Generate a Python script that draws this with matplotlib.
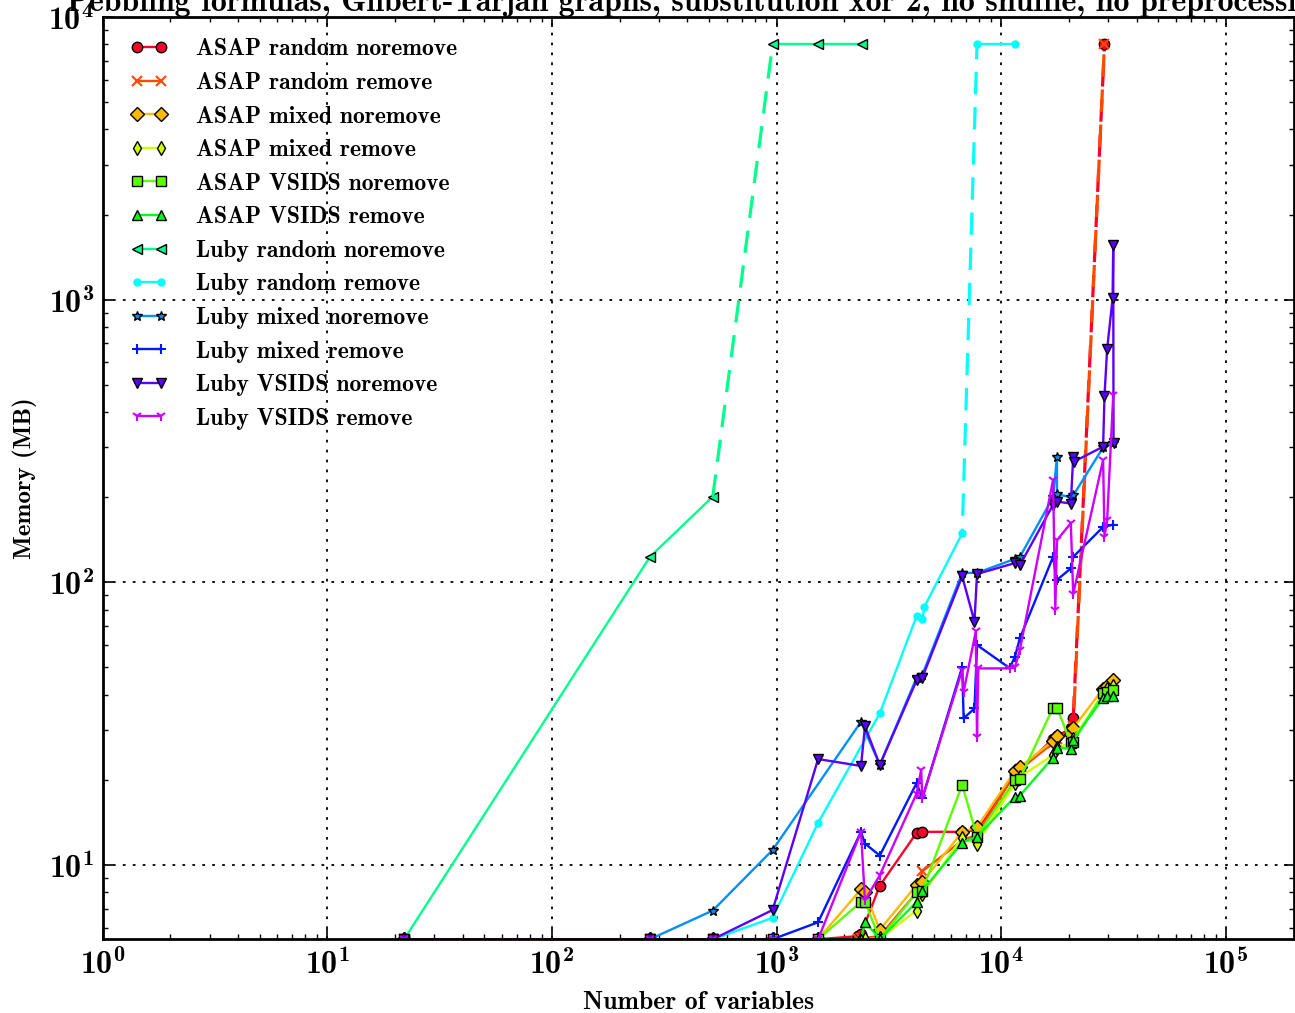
import matplotlib
matplotlib.use("Agg")
import matplotlib.pyplot as plt

plt.rcParams['font.family'] = ['cmb10', 'DejaVu Serif']
plt.rcParams['mathtext.fontset'] = 'cm'
plt.rcParams['axes.unicode_minus'] = False
plt.rcParams['axes.formatter.use_mathtext'] = True

TIMEOUT = 8000.0
B = 5.46  # values sitting on the lower edge

labels = ["ASAP random noremove", "ASAP random remove", "ASAP mixed noremove",
          "ASAP mixed remove", "ASAP VSIDS noremove", "ASAP VSIDS remove",
          "Luby random noremove", "Luby random remove", "Luby mixed noremove",
          "Luby mixed remove", "Luby VSIDS noremove", "Luby VSIDS remove"]
markers = ['o', 'x', 'D', 'd', 's', '^', '<', '.', '*', '+', 'v', '1']

asap_random_noremove_x = [22, 273, 520, 960, 1530, 2300, 2375, 2880, 4200, 4450, 6700, 7800,
                          11500, 12100, 17000, 17700, 20400, 20900]
asap_random_noremove_y = [B, B, B, B, B, 5.6, 5.7, 8.45, 13.0, 13.1, 13.1, 13.3,
                          21.0, 21.5, 28.0, 28.5, 30.5, 33.0]
asap_random_noremove_t = [28800]

asap_random_remove_x = [22, 273, 520, 960, 1530, 2300, 2375, 2880, 4200, 4450, 6700, 7800,
                        11500, 12100, 17000, 17700, 20400, 20900]
asap_random_remove_y = [B, B, B, B, B, B, 5.5, 5.6, 8.0, 9.5, 12.2, 12.8,
                        21.0, 21.8, 27.0, 28.0, 29.0, 31.0]
asap_random_remove_t = [28800]

asap_mixed_noremove_x = [22, 273, 520, 960, 1530, 2375, 2474, 2880, 4200, 4450, 6700, 7800,
                         11500, 12100, 17000, 17700, 20400, 20900, 28400, 29600, 31500]
asap_mixed_noremove_y = [B, B, B, B, B, 8.2, 8.0, 5.9, 8.5, 8.7, 13.1, 13.6,
                         21.5, 22.2, 27.5, 28.5, 29.0, 30.5, 42.0, 43.0, 45.0]

asap_mixed_remove_x = [22, 273, 520, 960, 1530, 2375, 2474, 2880, 4200, 4450, 6700, 7800,
                       11500, 12100, 17000, 17700, 20400, 20900, 28400, 29600, 31500]
asap_mixed_remove_y = [B, B, B, B, B, B, B, 5.5, 6.9, 7.9, 12.5, 11.9,
                       19.5, 20.5, 24.5, 26.0, 27.0, 28.0, 40.0, 42.0, 43.0]

asap_vsids_noremove_x = [22, 273, 520, 960, 1530, 2375, 2474, 2880, 4200, 4450, 6700, 7800,
                         11500, 12100, 17000, 17700, 20400, 20900, 28400, 29600, 31500]
asap_vsids_noremove_y = [B, B, B, B, B, 7.4, 7.4, B, 8.0, 8.1, 19.2, 12.6,
                         20.0, 20.2, 36.0, 36.0, 27.0, 27.3, 40.5, 41.0, 41.5]

asap_vsids_remove_x = [22, 273, 520, 960, 1530, 2375, 2474, 2880, 4200, 4450, 6700, 7800,
                       11500, 12100, 17000, 17700, 20400, 20900, 28400, 29600, 31500]
asap_vsids_remove_y = [B, B, B, B, B, B, 6.3, B, 7.4, 8.1, 12.0, 12.6,
                       17.4, 17.6, 24.0, 26.0, 25.8, 27.7, 39.0, 39.5, 39.5]

luby_random_noremove_x = [22, 273, 520]
luby_random_noremove_y = [B, 123, 201]
luby_random_noremove_t = [960, 1530, 2400]

luby_random_remove_x = [22, 273, 520, 960, 1530, 2880, 4200, 4450, 4550, 6700]
luby_random_remove_y = [B, B, B, 6.5, 14.1, 34.4, 76, 74, 82, 149]
luby_random_remove_t = [7800, 11500]

luby_mixed_noremove_x = [22, 273, 520, 960, 2375, 2880, 4200, 4450, 6700, 7800, 11500, 12100,
                         17000, 17700, 17700, 20400, 20900, 28400, 31500]
luby_mixed_noremove_y = [B, B, 6.9, 11.3, 32.1, 22.6, 46, 47, 108, 108, 121, 123,
                         200, 278, 205, 200, 203, 300, 310]

luby_mixed_remove_x = [22, 273, 520, 960, 1530, 2375, 2474, 2880, 4200, 4450, 6700, 6800,
                       7600, 7800, 10900, 11500, 12100, 17000, 17700, 20400, 20900, 28400, 31500]
luby_mixed_remove_y = [B, B, B, B, 6.27, 13.1, 11.9, 10.8, 19.5, 17.2, 50.2, 33,
                       35.8, 60, 49.7, 54.5, 63.4, 123, 102, 112, 123, 157, 160]

luby_vsids_noremove_x = [22, 273, 520, 960, 1530, 2375, 2474, 2880, 4200, 4450, 6700, 7600, 7800,
                         11500, 12100, 17000, 17700, 20400, 20900, 21000, 28400, 28800, 29600,
                         31300, 31500, 31600]
luby_vsids_noremove_y = [B, B, B, 6.93, 23.7, 22.4, 30.9, 22.6, 45, 46, 105, 72.6, 107,
                         117, 115, 188, 193, 190, 278, 267, 302, 456, 670,
                         1010, 1560, 310]

luby_vsids_remove_x = [22, 273, 520, 960, 1530, 2375, 2474, 2880, 4200, 4400, 4450, 6700, 6800,
                       7700, 7800, 7900, 10900, 11500, 12100, 17000, 17400, 17700, 20400, 20900,
                       28400, 28800, 29600, 31500]
luby_vsids_remove_y = [B, B, B, B, B, 13.1, 7.5, 9.2, 17.9, 21.7, 17.2, 49, 41,
                       67, 28.4, 49.6, 49.6, 50.0, 57.6, 230, 80, 141, 162, 91,
                       271, 145, 166, 460]

series = [
    (asap_random_noremove_x, asap_random_noremove_y, asap_random_noremove_t),
    (asap_random_remove_x, asap_random_remove_y, asap_random_remove_t),
    (asap_mixed_noremove_x, asap_mixed_noremove_y, []),
    (asap_mixed_remove_x, asap_mixed_remove_y, []),
    (asap_vsids_noremove_x, asap_vsids_noremove_y, []),
    (asap_vsids_remove_x, asap_vsids_remove_y, []),
    (luby_random_noremove_x, luby_random_noremove_y, luby_random_noremove_t),
    (luby_random_remove_x, luby_random_remove_y, luby_random_remove_t),
    (luby_mixed_noremove_x, luby_mixed_noremove_y, []),
    (luby_mixed_remove_x, luby_mixed_remove_y, []),
    (luby_vsids_noremove_x, luby_vsids_noremove_y, []),
    (luby_vsids_remove_x, luby_vsids_remove_y, []),
]

fig = plt.figure(figsize=(12.95, 10.13), dpi=100)
ax = fig.add_axes([0.0792, 0.0728, 0.9197, 0.9104])
ax.set_xscale('log')
ax.set_yscale('log')

unfilled = {'x', '+', '1', '.'}
for i, (lab, m, (xs, ys, tx)) in enumerate(zip(labels, markers, series)):
    c = plt.cm.gist_rainbow(i / 12)
    kw = dict(color=c, marker=m, lw=1.7, ms=7.5 if m != '.' else 9,
              mec=(c if m in unfilled else 'k'), mew=(1.5 if m in unfilled else 1.0),
              clip_on=True)
    ax.plot(xs, ys, label=lab, **kw)
    if tx:
        ax.plot([xs[-1], tx[0]], [ys[-1], TIMEOUT], color=c, lw=2.3,
                ls=((5.5 if i % 2 else 0), (7, 4)))
        ax.plot(tx, [TIMEOUT] * len(tx), **kw)

ax.set_xlim(1, 2e5)
ax.set_ylim(B, 1e4)
ax.grid(True, which='major', color='k', ls=(0, (1.5, 4)), lw=1.3)
ax.tick_params(which='both', direction='in', top=True, right=True, labelsize=23)
ax.tick_params(which='major', length=7, width=1.2, pad=6)
ax.tick_params(which='minor', length=3.5, width=1.0)
for s in ax.spines.values():
    s.set_linewidth(2)

ax.set_xlabel("Number of variables", fontsize=18.5, labelpad=8)
ax.set_ylabel("Memory (MB)", fontsize=18, labelpad=8)
ax.set_title("Pebbling formulas, Gilbert-Tarjan graphs, substitution xor 2, no shuffle, no preprocessing",
             fontsize=23, pad=3)

ax.legend(loc='upper left', frameon=False, fontsize=17, numpoints=2,
          handlelength=1.6, handletextpad=1.2, labelspacing=0.49,
          borderaxespad=0.0, borderpad=0.4, bbox_to_anchor=(0.015, 0.987))

fig.savefig("out.png", dpi=100)
